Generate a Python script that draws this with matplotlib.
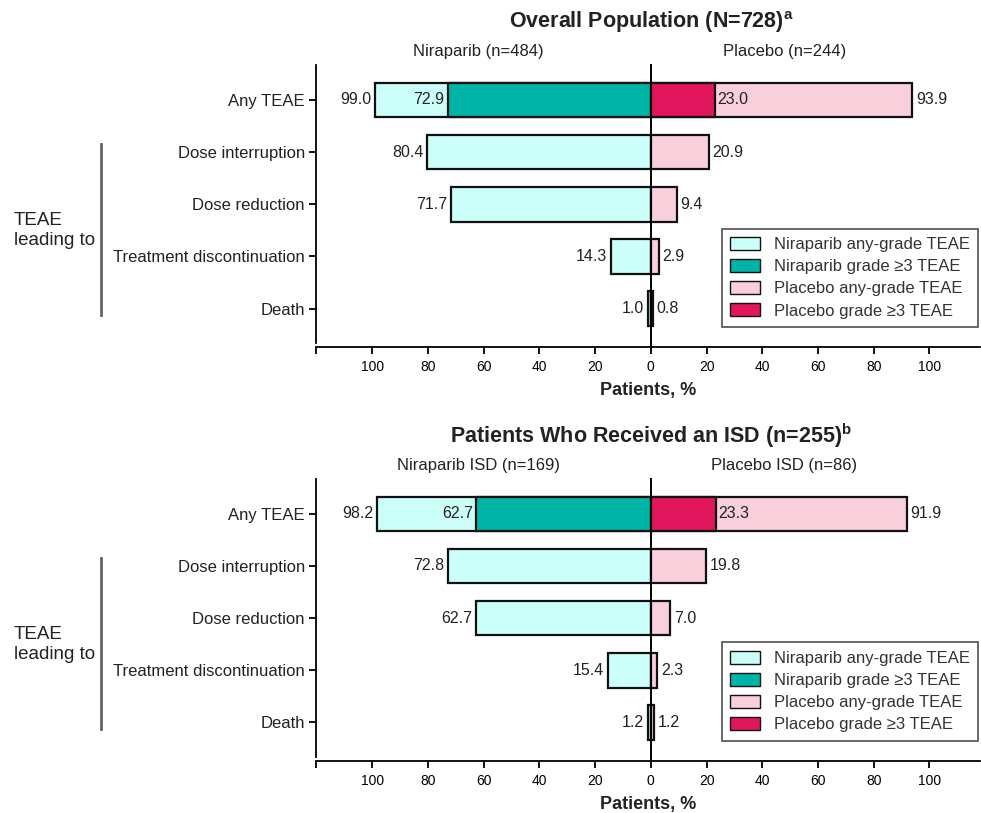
import numpy as np
import matplotlib.pyplot as plt
from matplotlib.patches import Patch
import matplotlib.transforms as mtransforms

plt.rcParams['font.family'] = ['Liberation Sans', 'DejaVu Sans']
plt.rcParams['mathtext.fontset'] = 'custom'
plt.rcParams['mathtext.rm'] = 'Liberation Sans'
plt.rcParams['mathtext.bf'] = 'Liberation Sans:bold'

# data
categories = ['Any TEAE', 'Dose interruption', 'Dose reduction',
              'Treatment discontinuation', 'Death']

# overall population
nira_any_1 = [99.0, 80.4, 71.7, 14.3, 1.0]
nira_g3_1 = [72.9, None, None, None, None]
plac_any_1 = [93.9, 20.9, 9.4, 2.9, 0.8]
plac_g3_1 = [23.0, None, None, None, None]

# ISD population
nira_any_2 = [98.2, 72.8, 62.7, 15.4, 1.2]
nira_g3_2 = [62.7, None, None, None, None]
plac_any_2 = [91.9, 19.8, 7.0, 2.3, 1.2]
plac_g3_2 = [23.3, None, None, None, None]

titles = [r'Overall Population (N=728)$^{\mathbf{a}}$',
          r'Patients Who Received an ISD (n=255)$^{\mathbf{b}}$']
arm_labels = [('Niraparib (n=484)', 'Placebo (n=244)'),
              ('Niraparib ISD (n=169)', 'Placebo ISD (n=86)')]

c_nira_any = '#CCFFFA'
c_nira_g3 = '#00B3A7'
c_plac_any = '#F9CFDC'
c_plac_g3 = '#E2165C'
txt = '#222222'

fig = plt.figure(figsize=(9.81, 8.13), dpi=100)
ax1 = fig.add_axes([0.322, 0.578, 0.677, 0.342])
ax2 = fig.add_axes([0.322, 0.069, 0.677, 0.342])

sets = [(ax1, nira_any_1, nira_g3_1, plac_any_1, plac_g3_1),
        (ax2, nira_any_2, nira_g3_2, plac_any_2, plac_g3_2)]

h = 0.66
fs = 11.5
elw = 1.6
for k, (ax, na, ng, pa, pg) in enumerate(sets):
    y = np.arange(len(categories))
    ax.barh(y, [-v for v in na], height=h, color=c_nira_any, edgecolor='#111', lw=elw, zorder=2)
    ax.barh(y, pa, height=h, color=c_plac_any, edgecolor='#111', lw=elw, zorder=2)
    for i in range(len(categories)):
        if ng[i] is not None:
            ax.barh(y[i], -ng[i], height=h, color=c_nira_g3, edgecolor='#111', lw=elw, zorder=3)
            ax.text(-ng[i] - 1.2, y[i], f'{ng[i]:.1f}', ha='right', va='center',
                    fontsize=fs, color=txt, zorder=5)
        if pg[i] is not None:
            ax.barh(y[i], pg[i], height=h, color=c_plac_g3, edgecolor='#111', lw=elw, zorder=3)
            ax.text(pg[i] + 1.0, y[i], f'{pg[i]:.1f}', ha='left', va='center',
                    fontsize=fs, color=txt, zorder=5)
        ax.text(-na[i] - 1.3, y[i], f'{na[i]:.1f}', ha='right', va='center',
                fontsize=fs, color=txt)
        ax.text(pa[i] + 1.3, y[i], f'{pa[i]:.1f}', ha='left', va='center',
                fontsize=fs, color=txt)

    ax.axvline(0, ymin=-0.016, ymax=1, color='black', lw=1.4, zorder=4, clip_on=False)
    ax.set_xlim(-120.3, 118.2)
    ax.set_ylim(len(categories) - 1 + 0.66, -0.67)
    ax.set_yticks(y)
    ax.set_yticklabels(categories, fontsize=12, color=txt)
    ax.set_xticks(np.arange(-100, 101, 20))
    ax.set_xticklabels([str(abs(v)) for v in range(-100, 101, 20)], fontsize=12, color=txt)
    ax.set_xticks([-120.3], minor=True)
    ax.tick_params(axis='x', which='both', direction='out', length=5, width=1.3, pad=4)
    ax.tick_params(axis='y', direction='out', length=5, width=1.3, pad=3)
    for s in ['top', 'right']:
        ax.spines[s].set_visible(False)
    ax.spines['left'].set_linewidth(1.3)
    ax.spines['bottom'].set_linewidth(1.3)
    ax.spines['bottom'].set_position(('outward', 3))
    ax.set_xlabel('Patients, %', fontsize=13, fontweight='bold', color=txt, labelpad=6)

    # titles
    bt = mtransforms.blended_transform_factory(ax.transData, ax.transAxes)
    ax.text(0, 1.155, titles[k], transform=bt, ha='center', va='center',
            fontsize=15.5, fontweight='bold', color=txt)
    ax.text(-62, 1.047, arm_labels[k][0], transform=bt, ha='center', va='center',
            fontsize=12, color=txt)
    ax.text(48, 1.047, arm_labels[k][1], transform=bt, ha='center', va='center',
            fontsize=12, color=txt)

    # bracket for "TEAE leading to"
    ft = mtransforms.blended_transform_factory(fig.transFigure, ax.transData)
    ax.plot([101 / 981, 101 / 981], [0.85, 4.12], transform=ft, color='#666666',
            lw=2, clip_on=False)
    ax.text(14 / 981, 2.5, 'TEAE\nleading to', transform=ft, ha='left', va='center',
            fontsize=13.5, color=txt, linespacing=1.2)

    handles = [Patch(facecolor=c_nira_any, edgecolor='#111', label='Niraparib any-grade TEAE'),
               Patch(facecolor=c_nira_g3, edgecolor='#111', label='Niraparib grade \u22653 TEAE'),
               Patch(facecolor=c_plac_any, edgecolor='#111', label='Placebo any-grade TEAE'),
               Patch(facecolor=c_plac_g3, edgecolor='#111', label='Placebo grade \u22653 TEAE')]
    leg = ax.legend(handles=handles, loc='lower right', bbox_to_anchor=(0.997, 0.058),
                    fontsize=12, frameon=True, fancybox=False, edgecolor='#222',
                    borderpad=0.5, labelspacing=0.42, handlelength=1.8, handleheight=0.8,
                    handletextpad=0.8, borderaxespad=0)
    leg.get_frame().set_linewidth(1.2)
    for t in leg.get_texts():
        t.set_color('#333333')

fig.savefig('out.png', dpi=100)
